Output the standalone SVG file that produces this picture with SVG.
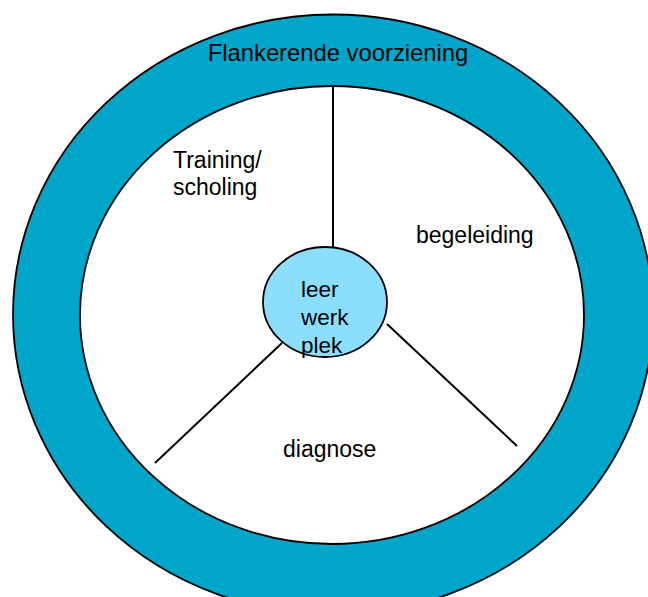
<svg xmlns="http://www.w3.org/2000/svg" width="648" height="597" viewBox="0 0 648 597">
<style>
.t{font-family:"Liberation Sans",Arial,sans-serif;font-size:23px;fill:#000}
.edge{stroke:#000;stroke-width:2;fill:none}
</style>
<rect width="648" height="597" fill="#fff"/>
<g id="ring">
<path d="M13,314.5 a320,300 0 1,0 640,0 a320,300 0 1,0 -640,0 Z M80,315 a252,229 0 1,0 504,0 a252,229 0 1,0 -504,0 Z" fill="#00A6C9" fill-rule="evenodd" stroke="#000" stroke-width="1.8"/>
<text class="t" x="338" y="61" text-anchor="middle" style="font-size:23.8px">Flankerende voorziening</text>
</g>
<g id="connectors">
<line class="edge" x1="333" y1="86" x2="333" y2="248"/>
<line class="edge" x1="282" y1="343" x2="155" y2="463"/>
<line class="edge" x1="387" y1="324" x2="517" y2="446"/>
</g>
<g id="center">
<ellipse cx="325" cy="302" rx="62" ry="55" fill="#8CDEFF" stroke="#000" stroke-width="1.8"/>
<text class="t" x="301" y="297" style="font-size:22.5px">leer</text>
<text class="t" x="301" y="325" style="font-size:22.5px">werk</text>
<text class="t" x="301" y="353" style="font-size:22.5px">plek</text>
</g>
<g id="training">
<text class="t" x="173" y="168">Training/</text>
<text class="t" x="173" y="195">scholing</text>
</g>
<g id="begeleiding">
<text class="t" x="416" y="243">begeleiding</text>
</g>
<g id="diagnose">
<text class="t" x="283" y="457">diagnose</text>
</g>
</svg>
